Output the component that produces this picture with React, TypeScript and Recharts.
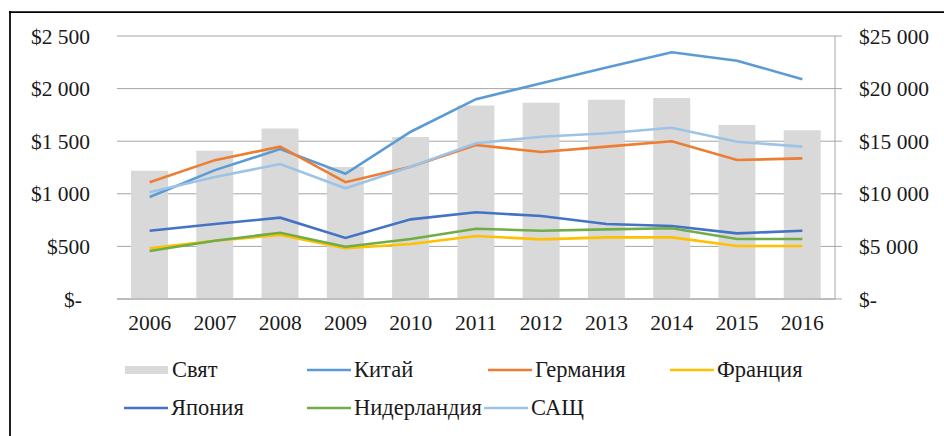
import React from 'react';
import { ComposedChart, Bar, Line, XAxis, YAxis, CartesianGrid } from 'recharts';

const years = ['2006', '2007', '2008', '2009', '2010', '2011', '2012', '2013', '2014', '2015', '2016'];
const world = [12200, 14100, 16200, 12550, 15400, 18400, 18650, 18950, 19100, 16550, 16050];
const china = [970, 1225, 1425, 1190, 1590, 1900, 2050, 2200, 2345, 2265, 2090];
const germany = [1110, 1320, 1448, 1110, 1258, 1464, 1397, 1448, 1499, 1321, 1337];
const france = [482, 554, 608, 482, 523, 599, 567, 586, 586, 504, 504];
const japan = [649, 713, 773, 580, 757, 824, 789, 713, 694, 624, 649];
const netherlands = [456, 554, 630, 497, 570, 668, 649, 662, 672, 570, 570];
const usa = [1014, 1160, 1283, 1052, 1258, 1480, 1543, 1575, 1628, 1495, 1448];

const leftTicks = [0, 500, 1000, 1500, 2000, 2500];
const rightTicks = [0, 5000, 10000, 15000, 20000, 25000];

const barName = 'Свят';
const barColor = '#D9D9D9';

const lineSeries = [
  { key: 'china', name: 'Китай', color: '#5B9BD5', values: china },
  { key: 'germany', name: 'Германия', color: '#ED7D31', values: germany },
  { key: 'france', name: 'Франция', color: '#FFC000', values: france },
  { key: 'japan', name: 'Япония', color: '#4472C4', values: japan },
  { key: 'netherlands', name: 'Нидерландия', color: '#70AD47', values: netherlands },
  { key: 'usa', name: 'САЩ', color: '#9DC3E6', values: usa },
];

const data = years.map((year, i) => {
  const row: Record<string, string | number> = { year, world: world[i] };
  lineSeries.forEach((s) => {
    row[s.key] = s.values[i];
  });
  return row;
});

const FONT = 'Liberation Serif';
const TEXT = '#1a1a1a';
const GRID = '#A6A6A6';
const textStyle = { fontFamily: FONT };

const fmt = (v: number) => {
  if (v === 0) return '$-';
  const s = String(v).replace(/\B(?=(\d{3})+(?!\d))/g, ' ');
  return '$' + s;
};

const LeftTick = (props: any) => {
  const { x, y, payload } = props;
  const v = payload.value as number;
  return (
    <text x={x + (v === 0 ? -8 : 0)} y={y} dy="0.355em" textAnchor="end" style={textStyle} fontSize={21.5} fill={TEXT}>
      {fmt(v)}
    </text>
  );
};

const RightTick = (props: any) => {
  const { x, y, payload } = props;
  const v = payload.value as number;
  return (
    <text x={x} y={y} dy="0.355em" textAnchor="start" style={textStyle} fontSize={21.5} fill={TEXT}>
      {fmt(v)}
    </text>
  );
};

const XTick = (props: any) => {
  const { x, y, payload } = props;
  return (
    <text x={x} y={y} dy="0.71em" textAnchor="middle" style={textStyle} fontSize={21.5} fill={TEXT}>
      {payload.value}
    </text>
  );
};

const legendItems = [
  { name: barName, color: barColor, bar: true, x: 125, y: 370 },
  { name: lineSeries[0].name, color: lineSeries[0].color, bar: false, x: 307, y: 370 },
  { name: lineSeries[1].name, color: lineSeries[1].color, bar: false, x: 488, y: 370 },
  { name: lineSeries[2].name, color: lineSeries[2].color, bar: false, x: 670, y: 370 },
  { name: lineSeries[3].name, color: lineSeries[3].color, bar: false, x: 124, y: 408 },
  { name: lineSeries[4].name, color: lineSeries[4].color, bar: false, x: 307, y: 408 },
  { name: lineSeries[5].name, color: lineSeries[5].color, bar: false, x: 484, y: 408 },
];

export default function App() {
  return (
    <div style={{ position: 'absolute', left: 0, top: 0, width: 944, height: 436, background: '#fff', fontFamily: FONT }}>
      <ComposedChart width={944} height={436} data={data} margin={{ top: 36, right: 0, bottom: 0, left: 0 }}>
        <CartesianGrid yAxisId="left" vertical={false} stroke={GRID} strokeWidth={1} />
        <XAxis
          dataKey="year"
          height={137}
          tickLine={false}
          tickSize={0}
          tickMargin={16}
          axisLine={{ stroke: GRID }}
          tick={<XTick />}
          interval={0}
        />
        <YAxis
          yAxisId="left"
          orientation="left"
          width={117}
          domain={[0, 2500]}
          ticks={leftTicks}
          axisLine={false}
          tickLine={false}
          tickSize={0}
          tickMargin={27}
          tick={<LeftTick />}
          interval={0}
        />
        <YAxis
          yAxisId="right"
          orientation="right"
          width={109}
          domain={[0, 25000]}
          ticks={rightTicks}
          axisLine={{ stroke: GRID }}
          tickLine={{ stroke: GRID }}
          tickSize={7}
          tickMargin={17}
          tick={<RightTick />}
          interval={0}
        />
        <Bar yAxisId="right" dataKey="world" name={barName} fill={barColor} barSize={37} isAnimationActive={false} />
        {lineSeries.map((s) => (
          <Line
            key={s.key}
            yAxisId="left"
            type="linear"
            dataKey={s.key}
            name={s.name}
            stroke={s.color}
            strokeWidth={2.6}
            dot={false}
            activeDot={false}
            isAnimationActive={false}
          />
        ))}
      </ComposedChart>
      <svg
        width={944}
        height={436}
        style={{ position: 'absolute', left: 0, top: 0, pointerEvents: 'none' }}
      >
        <line x1={9} y1={12} x2={944} y2={12} stroke="#000" strokeWidth={1.75} />
        <line x1={10} y1={11} x2={10} y2={436} stroke="#000" strokeWidth={1.75} />
        {legendItems.map((it) => (
          <g key={it.name}>
            {it.bar ? (
              <rect x={it.x} y={it.y - 4} width={43} height={8} fill={it.color} />
            ) : (
              <line x1={it.x} y1={it.y} x2={it.x + 44} y2={it.y} stroke={it.color} strokeWidth={2.6} />
            )}
            <text x={it.x + 47} y={it.y + 7} style={textStyle} fontSize={22.5} fill={TEXT}>
              {it.name}
            </text>
          </g>
        ))}
      </svg>
    </div>
  );
}
